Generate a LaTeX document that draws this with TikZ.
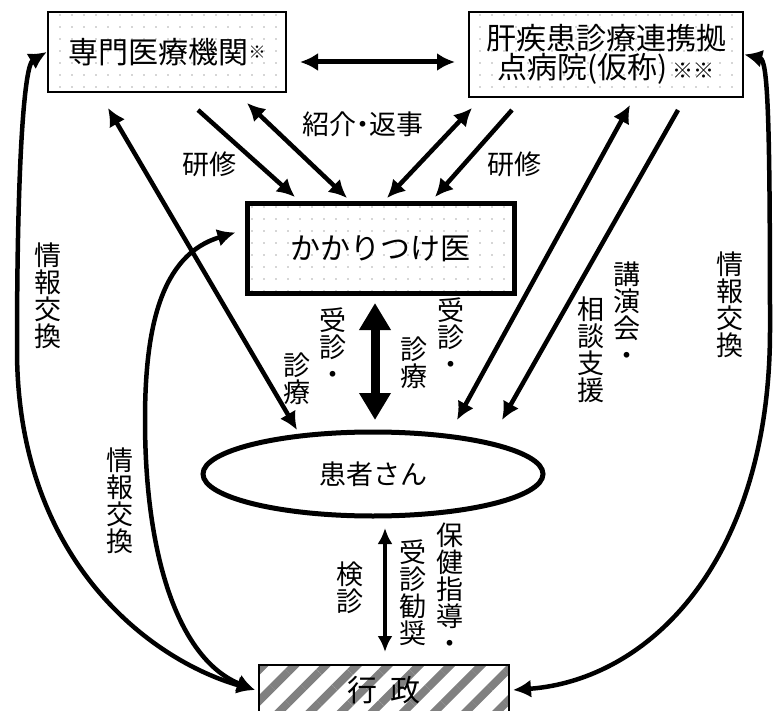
\documentclass[tikz,border=0pt]{standalone}
\usepackage{fontspec}
\setmainfont{Noto Sans CJK JP}
\usetikzlibrary{arrows.meta,shapes.geometric,patterns.meta}
\newcommand{\boxfont}{\fontsize{30}{31}\selectfont}
\newcommand{\lblfont}{\fontsize{27}{27}\selectfont}

\begin{document}
\begin{tikzpicture}[x=1pt, y=-1pt,
    box/.style={draw, rectangle, line width=2.5pt, inner sep=0pt, align=center, font=\boxfont,
        pattern={Dots[distance=12pt, radius=0.6pt]}, pattern color=black!70},
    lbl/.style={inner sep=0pt, align=center, font=\lblfont},
    arr/.style={line width=4.5pt, -{Latex[length=18pt, width=18pt]}},
    darr/.style={line width=4.5pt, {Latex[length=18pt, width=18pt]}-{Latex[length=18pt, width=18pt]}}]
    \useasboundingbox (0,0) rectangle (776,711);

    \node[box, minimum width=238pt, minimum height=80pt] (spec) at (167,52) {専門医療機関\raisebox{5pt}{\fontsize{17}{17}\selectfont ※}};
    \node[box, minimum width=274pt, minimum height=85pt, font=\fontsize{30}{29}\selectfont] (hub) at (606,54.5) {肝疾患診療連携拠\\点病院(仮称)\,{\fontsize{21}{21}\selectfont ※※}};
    \node[box, line width=5pt, minimum width=267pt, minimum height=89pt] (gp) at (380.5,248.5) {かかりつけ医};
    \node[draw, ellipse, line width=5pt, inner sep=0pt, minimum width=340pt, minimum height=84pt, font=\lblfont] (pt) at (373,474) {患者さん};
    \node[draw, rectangle, line width=2pt, inner sep=0pt, minimum width=250pt, minimum height=50pt, font=\boxfont,
        pattern={Lines[angle=45, distance=22pt, line width=8pt]}, pattern color=black!50] (gov) at (384,690) {行\hspace{14pt}政};

    % free ends
    \coordinate (k1s) at (198,110); \coordinate (k1e) at (295,197);
    \coordinate (s1s) at (247,103); \coordinate (s1e) at (347,198);
    \coordinate (s2s) at (472,108); \coordinate (s2e) at (387,198);
    \coordinate (k2s) at (512,110); \coordinate (k2e) at (435,197);
    \coordinate (l1s) at (108,108); \coordinate (l1e) at (297,430);
    \coordinate (r1s) at (630,105); \coordinate (r1e) at (457,420);
    \coordinate (r2s) at (678,110); \coordinate (r2e) at (502,420);
    \coordinate (ms) at (375,303);  \coordinate (me) at (375,420);
    \coordinate (hs) at (300,62);   \coordinate (he) at (455,62);
    \coordinate (bs) at (385,528);  \coordinate (be) at (385,652);

    \draw[darr, line width=5pt] (hs) -- (he);
    \draw[arr] (k1s) -- (k1e);
    \draw[darr] (s1s) -- (s1e);
    \draw[darr] (s2s) -- (s2e);
    \draw[arr] (k2s) -- (k2e);
    \draw[darr] (l1s) -- (l1e);
    \draw[darr] (r1s) -- (r1e);
    \draw[arr] (r2s) -- (r2e);
    \draw[line width=9pt, {Triangle[length=27pt, width=30pt]}-{Triangle[length=27pt, width=30pt]}] (ms) -- (me);
    \draw[line width=3.5pt, {Latex[length=16pt, width=15pt]}-{Latex[length=16pt, width=15pt]}] (bs) -- (be);

    % info exchange
    \draw[darr] (spec.west) .. controls (25,65) and (17,150) .. (17,350) .. controls (17,560) and (150,660) .. (gov.west);
    \draw[darr] (hub.east) .. controls (768,60) and (770,120) .. (770,330) .. controls (770,560) and (650,680) .. (gov.east);
    \draw[darr] ([shift={(-9pt,16pt)}]gp.west) .. controls (160,255) and (145,330) .. (145,420) .. controls (145,560) and (180,660) .. (gov.west);

    \node[lbl] (lken1) at (209,164) {研修};
    \node[lbl] (lsho) at (363,124) {紹介\kern-7pt・\kern-7pt返事};
    \node[lbl] (lken2) at (514,164) {研修};
    \node[lbl, anchor=north] (ljs1) at (333,308) {受\\診\\・};
    \node[lbl, anchor=north] (lsr1) at (297,353) {診\\療};
    \node[lbl, anchor=north] (ljs2) at (451,298) {受\\診\\・};
    \node[lbl, anchor=north] (lsr2) at (414,337) {診\\療};
    \node[lbl, anchor=north] (lko) at (627,262) {講\\演\\会\\・};
    \node[lbl, anchor=north] (lso) at (591,297) {相\\談\\支\\援};
    \node[lbl, anchor=north] (ljr) at (730,252) {情\\報\\交\\換};
    \node[lbl, anchor=north] (ljl) at (48,243) {情\\報\\交\\換};
    \node[lbl, anchor=north] (lji) at (120,448) {情\\報\\交\\換};
    \node[lbl, anchor=north] (lkn) at (350,562) {検\\診};
    \node[lbl, anchor=north] (lho) at (450,523) {保\\健\\指\\導\\・};
    \node[lbl, anchor=north] (lju) at (413,540) {受\\診\\勧\\奨};
\end{tikzpicture}
\end{document}
